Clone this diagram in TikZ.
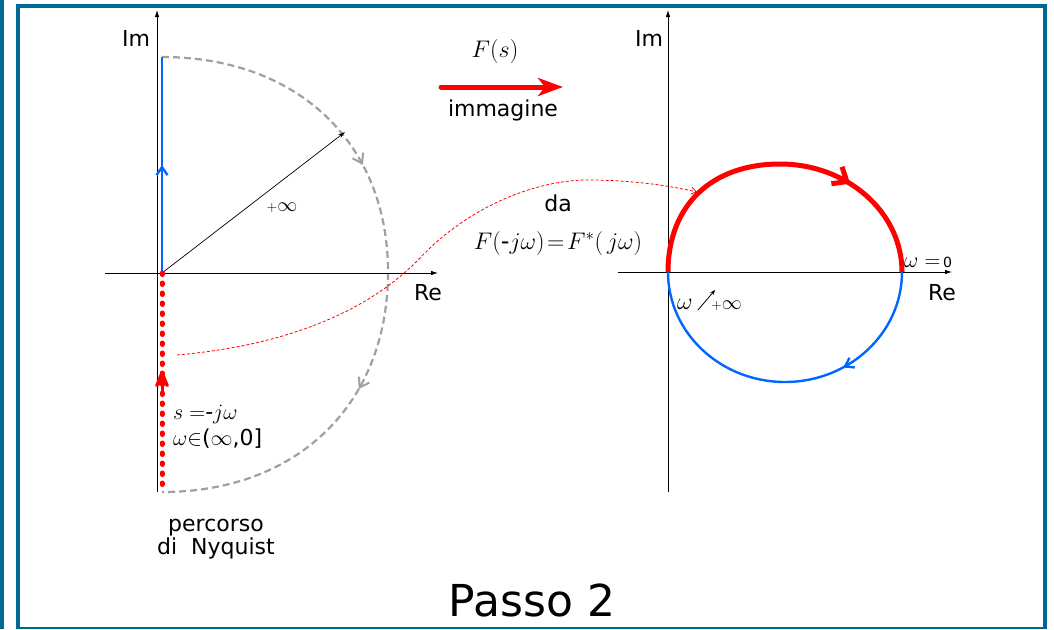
\RequirePackage{fix-cm}
\documentclass[tikz,border=0pt]{standalone}
\usepackage{fontspec}
\setmainfont{DejaVu Sans}
\usetikzlibrary{arrows.meta,decorations.markings}
\definecolor{framec}{RGB}{0,104,150}
\definecolor{nblue}{RGB}{0,102,255}
\definecolor{ngray}{RGB}{160,160,160}
\definecolor{nred}{RGB}{255,0,0}
\begin{document}
\begin{tikzpicture}[x=1pt,y=-1pt,
  axis/.style={line width=0.8pt,-{Latex[length=7pt,width=4.5pt]}},
  lbl/.style={inner sep=0pt,font=\fontsize{22}{23}\selectfont},
  mathlbl/.style={inner sep=0pt,font=\fontsize{24}{24}\selectfont},
  slbl/.style={inner sep=0pt,font=\fontsize{22}{22}\selectfont},
  smalllbl/.style={inner sep=0pt,font=\fontsize{20}{22}\selectfont},
  markat/.style 2 args={postaction={decorate,decoration={markings,mark=at position #1 with {\arrow{#2}}}}}]
\useasboundingbox (0,0) rectangle (1054,629);
% frame
\fill[framec] (0,0) rectangle (4,629);
\fill[framec] (16,4) rectangle (1047,8);
\fill[framec] (16,4) rectangle (20,629);
\fill[framec] (1043,4) rectangle (1047,629);
\fill[framec] (16,627) rectangle (1047,629);
% left plane coordinates
\coordinate (O1) at (162,273);
\coordinate (R1a) at (105,273);
\coordinate (R1b) at (438,273);
\coordinate (I1a) at (157,492);
\coordinate (I1b) at (157,10);
\coordinate (T1) at (162,57);
\coordinate (B1) at (162,492);
\coordinate (M1) at (388,272);
\coordinate (P1) at (345,132);
% gray half contour
\draw[ngray,line width=2.2pt,dash pattern=on 7pt off 4pt,
  postaction={decorate,decoration={markings,
    mark=at position 0.34 with {\arrow{Straight Barb[length=9pt,width=12pt,line width=2pt]}},
    mark=at position 0.67 with {\arrow{Straight Barb[length=9pt,width=12pt,line width=2pt]}}}}]
  (T1) .. controls (297.6,57) and (388,143) .. (M1)
       .. controls (388,404) and (297.6,492) .. (B1);
% axes
\draw[axis] (R1a) -- (R1b);
\draw[axis] (I1a) -- (I1b);
% blue segment
\draw[nblue,line width=2.4pt,markat={0.5}{Straight Barb[length=8pt,width=11pt]}] (O1) -- (T1);
% radius
\draw[line width=0.7pt,-{Stealth[length=7pt,width=4pt]}] (O1) -- (P1);
% red dotted
\draw[nred,line width=5pt,line cap=round,dash pattern=on 1.5pt off 8.5pt] (O1) -- (B1);
\coordinate (A1s) at (162,393);
\coordinate (A1e) at (162,371);
\draw[nred,line width=3pt,-{Stealth[length=21pt,width=17pt,inset=6pt,round]}] (A1s) -- (A1e);
% red dashed mapping curve
\coordinate (C1) at (177,355);
\coordinate (C2) at (697,192);
\draw[nred,line width=0.8pt,dash pattern=on 3pt off 2pt,-{Straight Barb[length=5pt,width=7pt]}]
  (C1) .. controls (290,345) and (370,310) .. (420,258)
       .. controls (470,205) and (540,178) .. (595,180)
       .. controls (640,181) and (670,186) .. (C2);
% top arrow
\coordinate (F1) at (441,87);
\coordinate (F2) at (563,87);
\draw[nred,line width=5pt,line cap=round,-{Stealth[length=25pt,width=18pt,inset=7pt]}] (F1) -- (F2);
% right plane
\coordinate (O2) at (668,272);
\coordinate (W0) at (902,272);
\coordinate (R2a) at (618,272);
\coordinate (R2b) at (952,272);
\coordinate (I2a) at (668,492);
\coordinate (I2b) at (668,10);
\draw[axis] (R2a) -- (R2b);
\draw[axis] (I2a) -- (I2b);
\draw[nred,line width=5pt,markat={0.70}{Straight Barb[length=12pt,width=20pt]}]
  (O2) .. controls (668,205) and (712,164) .. (780,164)
       .. controls (847,164) and (902,212) .. (W0);
\draw[nblue,line width=2.4pt,markat={0.33}{Straight Barb[length=8pt,width=11pt]}]
  (W0) .. controls (902,332.7) and (849.6,382) .. (785,382)
       .. controls (720.4,382) and (668,332.7) .. (O2);
% labels
\node[lbl] (im1) at (136,38) {Im};
\node[lbl] (re1) at (428,293) {Re};
\node[lbl] (im2) at (649,38) {Im};
\node[lbl] (re2) at (942,293) {Re};
\node[smalllbl] (inf) at (282,208) {${\scriptstyle+}\infty$};
\node[mathlbl] (fs) at (495,52) {$F(s)$};
\node[lbl] (imm) at (503,110) {immagine};
\node[lbl] (da) at (558,203) {da};
\node[mathlbl] (fj) at (558,243) {$F($-$j\omega)\!=\!F^*(\,j\omega)$};
\node[slbl,anchor=base west] (s1) at (173,419) {$s\;{=}$-$j\omega$};
\node[slbl,anchor=base west] (s2) at (173,445) {$\omega{\in}$($\infty$,0]};
\node[lbl,align=center] (perc) at (216,539) {percorso\\di~~Nyquist};
\node[inner sep=0pt,anchor=base west] (w0) at (904,267)
  {{\fontsize{22}{22}\selectfont$\omega=$}\;{\fontsize{14}{14}\selectfont 0}};
\node[inner sep=0pt,font=\fontsize{24}{24}\selectfont,anchor=base west] (wom) at (677,309) {$\omega$};
\node[smalllbl,anchor=base west] (winf) at (711,309) {${\scriptstyle+}\infty$};
\coordinate (wa1) at (698,310);
\coordinate (wa2) at (715,290);
\draw[line width=0.8pt,-{Stealth[length=5pt,width=4pt]}] (wa1) -- (wa2);
\node[inner sep=0pt,font=\fontsize{44}{50}\selectfont] (passo) at (532,600) {Passo 2};
\end{tikzpicture}
\end{document}
